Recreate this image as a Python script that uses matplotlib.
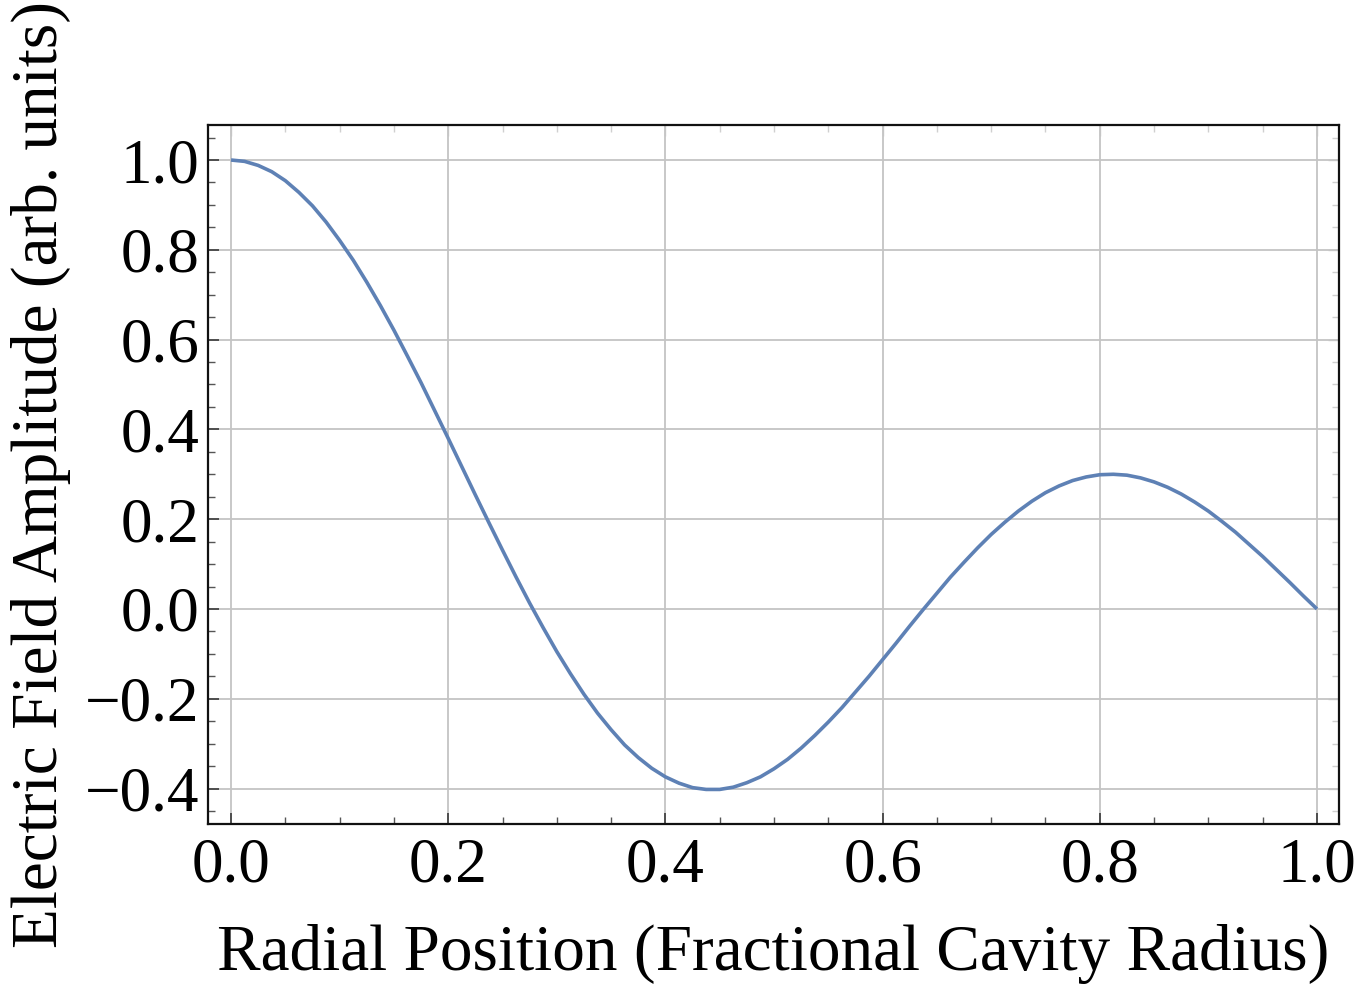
import matplotlib
matplotlib.use("Agg")
import matplotlib.pyplot as plt
from matplotlib.ticker import MultipleLocator, FuncFormatter

# Values
radial_position = [0.0000, 0.0125, 0.0250, 0.0375, 0.0500, 0.0625, 0.0750, 0.0875,
                   0.1000, 0.1125, 0.1250, 0.1375, 0.1500, 0.1625, 0.1750, 0.1875,
                   0.2000, 0.2125, 0.2250, 0.2375, 0.2500, 0.2625, 0.2750, 0.2875,
                   0.3000, 0.3125, 0.3250, 0.3375, 0.3500, 0.3625, 0.3750, 0.3875,
                   0.4000, 0.4125, 0.4250, 0.4375, 0.4500, 0.4625, 0.4750, 0.4875,
                   0.5000, 0.5125, 0.5250, 0.5375, 0.5500, 0.5625, 0.5750, 0.5875,
                   0.6000, 0.6125, 0.6250, 0.6375, 0.6500, 0.6625, 0.6750, 0.6875,
                   0.7000, 0.7125, 0.7250, 0.7375, 0.7500, 0.7625, 0.7750, 0.7875,
                   0.8000, 0.8125, 0.8250, 0.8375, 0.8500, 0.8625, 0.8750, 0.8875,
                   0.9000, 0.9125, 0.9250, 0.9375, 0.9500, 0.9625, 0.9750, 0.9875,
                   1.0000]
field_amplitude = [1.000, 0.997, 0.988, 0.974, 0.954, 0.928, 0.898, 0.862,
                   0.821, 0.777, 0.728, 0.676, 0.621, 0.563, 0.504, 0.442,
                   0.380, 0.317, 0.254, 0.192, 0.131, 0.071, 0.013, -0.042,
                   -0.095, -0.144, -0.190, -0.232, -0.269, -0.303, -0.331, -0.355,
                   -0.374, -0.388, -0.398, -0.402, -0.402, -0.397, -0.387, -0.374,
                   -0.356, -0.335, -0.310, -0.282, -0.252, -0.220, -0.185, -0.150,
                   -0.113, -0.076, -0.038, -0.001, 0.035, 0.071, 0.104, 0.136,
                   0.166, 0.193, 0.218, 0.240, 0.259, 0.274, 0.286, 0.294,
                   0.299, 0.300, 0.298, 0.292, 0.283, 0.271, 0.256, 0.238,
                   0.218, 0.195, 0.171, 0.144, 0.117, 0.088, 0.059, 0.029,
                   0.000]

x_ticks = [0.0, 0.2, 0.4, 0.6, 0.8, 1.0]
y_ticks = [-0.4, -0.2, 0.0, 0.2, 0.4, 0.6, 0.8, 1.0]
x_label = "Radial Position (Fractional Cavity Radius)"
y_label = "Electric Field Amplitude (arb. units)"

plt.rcParams['font.family'] = ['Liberation Serif', 'DejaVu Serif']
plt.rcParams['axes.unicode_minus'] = True

fig = plt.figure(figsize=(13.59, 9.84), dpi=100)
ax = fig.add_axes([208/1359, 1-824/984, (1339-208)/1359, (824-125)/984])

ax.plot(radial_position, field_amplitude, color='#5E81B5', lw=2.6, zorder=3,
        solid_joinstyle='round', solid_capstyle='butt')

ax.set_xlim(-0.0212, 1.0203)
ax.set_ylim(-0.479, 1.078)
ax.set_xticks(x_ticks)
ax.set_yticks(y_ticks)
ax.xaxis.set_minor_locator(MultipleLocator(0.05))
ax.yaxis.set_minor_locator(MultipleLocator(0.05))
fmt = FuncFormatter(lambda v, p: f"{v:.1f}".replace("-", "\u2212"))
ax.xaxis.set_major_formatter(fmt)
ax.yaxis.set_major_formatter(fmt)

ax.grid(True, which='major', color='#c4c4c4', lw=1.3)
ax.set_axisbelow(True)

ax.tick_params(which='major', direction='in', length=8, width=1.3, color='#444444',
               labelsize=45.5, pad=10)
ax.tick_params(which='minor', direction='in', length=5, width=1.0, color='#555555')
ax.tick_params(axis='y', pad=6)

for s in ax.spines.values():
    s.set_linewidth(1.6)
    s.set_color('#111111')

# faint ticks on top and right
top = ax.secondary_xaxis('top')
top.set_xticks(x_ticks)
top.xaxis.set_minor_locator(MultipleLocator(0.05))
top.tick_params(which='both', direction='in', color='#d0d0d0', labeltop=False, width=1.0)
top.tick_params(which='major', length=8)
top.tick_params(which='minor', length=5)
top.spines['top'].set_visible(False)
right = ax.secondary_yaxis('right')
right.set_yticks(y_ticks)
right.yaxis.set_minor_locator(MultipleLocator(0.05))
right.tick_params(which='both', direction='in', color='#d0d0d0', labelright=False, width=1.0)
right.tick_params(which='major', length=8)
right.tick_params(which='minor', length=5)
right.spines['right'].set_visible(False)

ax.set_xlabel(x_label, fontsize=47, labelpad=20)
ax.set_ylabel(y_label, fontsize=47, labelpad=10)

fig.savefig("out.png", dpi=100)
